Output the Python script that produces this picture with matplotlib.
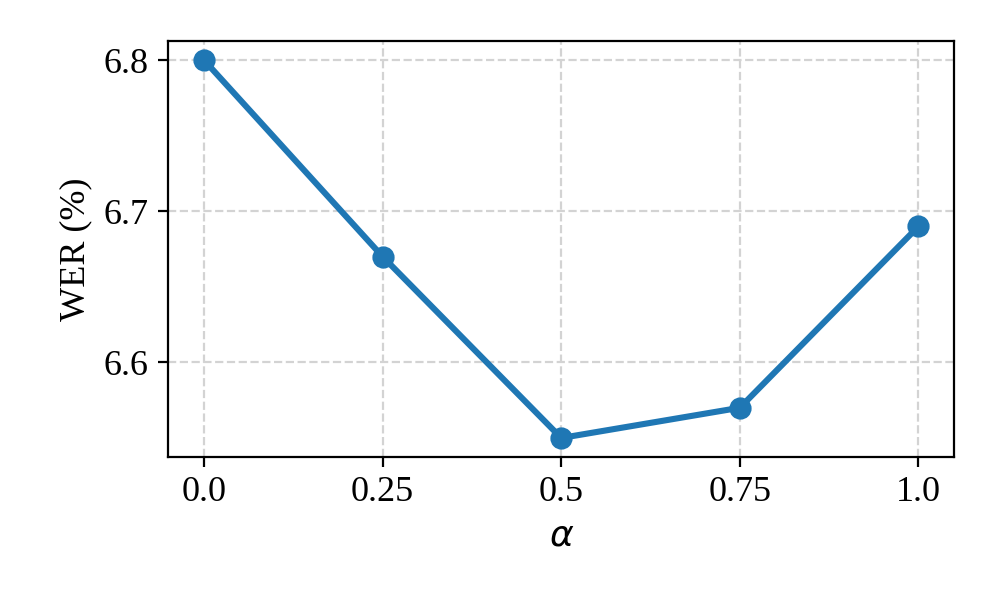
import matplotlib

matplotlib.use("Agg")
import matplotlib.pyplot as plt

alphas = [0.0, 0.25, 0.5, 0.75, 1.0]
wer = [6.80, 6.67, 6.55, 6.57, 6.69]
tick_labels = ["0.0", "0.25", "0.5", "0.75", "1.0"]

plt.rcParams["font.family"] = ["Liberation Serif", "DejaVu Serif"]
plt.rcParams["mathtext.fontset"] = "dejavusans"

fig = plt.figure(figsize=(4.98, 2.99), dpi=200)
ax = fig.add_axes([0.169, 0.236, 0.789, 0.695])
ax.plot(alphas, wer, "o-", color="#1f77b4", lw=2.2, ms=7)
ax.set_xticks(alphas)
ax.set_xticklabels(tick_labels)
ax.set_yticks([6.6, 6.7, 6.8])
ax.tick_params(labelsize=13)
ax.set_xlabel(r"$\alpha$", fontsize=13)
ax.set_ylabel("WER (%)", fontsize=13)
ax.grid(True, ls="--", color="lightgray", lw=0.8)
ax.set_axisbelow(True)
fig.savefig("out.png", dpi=200)
